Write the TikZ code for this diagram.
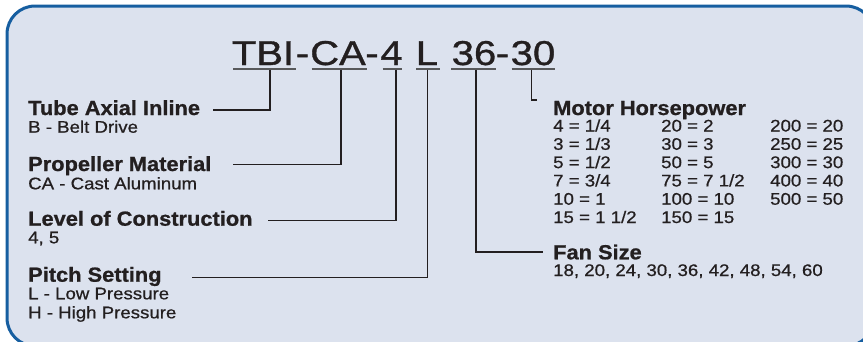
\documentclass[tikz,border=0pt]{standalone}
\usepackage{fontspec}
\setmainfont{Liberation Sans}[FakeStretch=1.11, FakeBold=0.7, BoldFeatures={FakeStretch=1.07, FakeBold=0.9}]
\newfontfamily\titlefont{Liberation Sans}[FakeStretch=1.16, FakeBold=1.0]
\definecolor{panel}{RGB}{220,226,238}
\definecolor{rim}{RGB}{22,94,160}
\definecolor{ink}{RGB}{35,31,32}
\definecolor{uline}{RGB}{88,89,91}
\tikzset{
  head/.style={anchor=base west, inner sep=0pt, text=ink, font=\fontsize{20.4}{24}\selectfont\bfseries},
  sub/.style={anchor=base west, inner sep=0pt, text=ink, font=\fontsize{16.8}{20}\selectfont},
  code/.style={anchor=base, inner sep=0pt, text=ink, font=\titlefont\fontsize{34.5}{40}\selectfont},
  underl/.style={draw=uline, line width=2pt},
  conn/.style={draw=ink, line width=1.2pt},
  frame/.style={draw=rim, fill=panel, line width=3pt, rounded corners=28pt}
}
\begin{document}
\begin{tikzpicture}[x=1pt,y=-1pt]
\useasboundingbox (0,0) rectangle (863,341);
\clip (0,0) rectangle (863,341);
\fill[white] (0,0) rectangle (863,341);
\path[frame] (7,6) rectangle (874,346);

% model code segments
\node[code] (tbi) at (263,65) {TBI};
\node[code] (d1)  at (302.5,65) {-};
\node[code] (ca)  at (338,65) {CA};
\node[code] (d2)  at (372,65) {-};
\node[code] (four) at (391.5,65) {4};
\node[code] (ll)  at (427,65) {L};
\node[code] (tsix) at (474,65) {36};
\node[code] (d3)  at (502.5,65) {-};
\node[code] (tz)  at (533,65) {30};

% underlines
\draw[underl] (233,68.5) -- (296,68.5);
\draw[underl] (311.5,68.5) -- (366.5,68.5);
\draw[underl] (382.5,68.5) -- (401.5,68.5);
\draw[underl] (416,68.5) -- (439.5,68.5);
\draw[underl] (451,68.5) -- (496,68.5);
\draw[underl] (511.5,68.5) -- (555,68.5);

% underline anchor points
\coordinate (u1) at (270,69.5);
\coordinate (u2) at (341,69.5);
\coordinate (u3) at (396,69.5);
\coordinate (u4) at (427.5,69.5);
\coordinate (u5) at (476,69.5);
\coordinate (u6) at (531.5,69.5);

% left labels
\node[head] (tube) at (28,115) {Tube Axial Inline};
\node[sub]  (tubes) at (28,132.7) {B - Belt Drive};
\node[head] (prop) at (28,171) {Propeller Material};
\node[sub]  (props) at (28,189.3) {CA - Cast Aluminum};
\node[head] (lev) at (28,225.7) {Level of Construction};
\node[sub]  (levs) at (28,243.3) {4, 5};
\node[head] (pitch) at (28,281.7) {Pitch Setting};
\node[sub]  (pitchs1) at (28,299.3) {L - Low Pressure};
\node[sub]  (pitchs2) at (28,318.3) {H - High Pressure};

\coordinate (e1) at (212.5,110);
\coordinate (e2) at (233,164.3);
\coordinate (e3) at (268,220.7);
\coordinate (e4) at (191.5,277.3);

\draw[conn] (u1) |- (e1);
\draw[conn] (u2) |- (e2);
\draw[conn] (u3) |- (e3);
\draw[conn] (u4) |- (e4);

% right labels
\node[head] (motor) at (553,115) {Motor Horsepower};
\coordinate (e6) at (537,100);
\draw[conn] (u6) |- (e6);

\foreach \r/\a/\b [count=\i] in {
  {4 = 1/4}/{20 = 2}/{200 = 20},
  {3 = 1/3}/{30 = 3}/{250 = 25},
  {5 = 1/2}/{50 = 5}/{300 = 30},
  {7 = 3/4}/{75 = 7 1/2}/{400 = 40},
  {10 = 1}/{100 = 10}/{500 = 50},
  {15 = 1 1/2}/{150 = 15}/{}} {
  \node[sub] (hpa\i) at (553,{131.5+18.3*(\i-1)}) {\r};
  \node[sub] (hpb\i) at (661,{131.5+18.3*(\i-1)}) {\a};
  \node[sub] (hpc\i) at (770,{131.5+18.3*(\i-1)}) {\b};
}

\node[head] (fan) at (553,259.3) {Fan Size};
\node[sub]  (fans) at (553,276) {18, 20, 24, 30, 36, 42, 48, 54, 60};
\coordinate (e5) at (543,252);
\draw[conn] (u5) |- (e5);
\end{tikzpicture}
\end{document}
